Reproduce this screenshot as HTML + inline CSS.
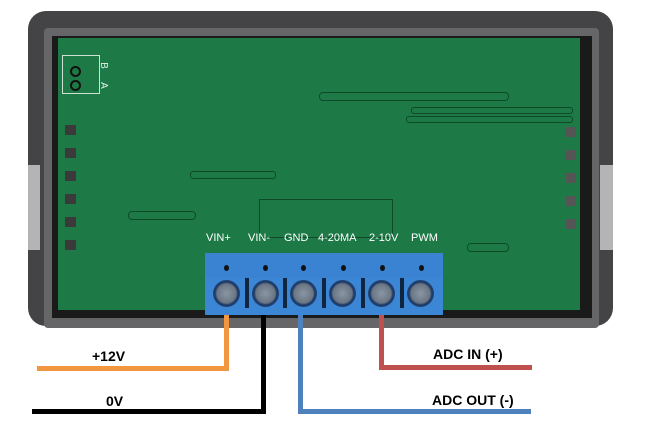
<!DOCTYPE html>
<html><head><meta charset="utf-8"><style>
html,body{margin:0;padding:0;background:#fff;width:646px;height:448px;overflow:hidden;position:relative;font-family:"Liberation Sans",sans-serif}
.a{position:absolute}
.lbl{position:absolute;color:#fff;font-size:11px;top:232px}
.w{position:absolute;font-weight:bold;font-size:14px;color:#000}
.scr{position:absolute;top:280px;width:27px;height:27px;border-radius:50%;background:radial-gradient(circle,#8a96a4 0,#6b7684 50%,#1d3a66 60%,#2a5da0 100%)}
.dot{position:absolute;top:265px;width:5px;height:6px;border-radius:50%;background:#111}
.sep{position:absolute;top:278px;width:4px;height:30px;background:#10253f}
</style></head><body>
<div class="a" style="left:28px;top:11px;width:585px;height:315px;background:#444446;border-radius:18px"></div>
<div class="a" style="left:28px;top:165px;width:12px;height:85px;background:#b4b4b6"></div>
<div class="a" style="left:600px;top:165px;width:13px;height:85px;background:#b4b4b6"></div>
<div class="a" style="left:44px;top:28px;width:555px;height:300px;background:#666668;border-radius:4px"></div>
<div class="a" style="left:52px;top:36px;width:540px;height:282px;background:#1a1a1a"></div>
<div class="a" style="left:58px;top:38px;width:522px;height:272px;background:#1d7a46"></div>
<div class="a" style="left:62px;top:55px;width:36px;height:37px;border:1px solid #cfe0d4"></div>
<div class="a" style="left:70px;top:66px;width:7px;height:7px;border:2px solid #111;border-radius:50%"></div>
<div class="a" style="left:70px;top:80px;width:7px;height:7px;border:2px solid #111;border-radius:50%"></div>
<div class="a" style="left:100px;top:60px;color:#e8f0ea;font-size:10px;transform:rotate(90deg)">B</div>
<div class="a" style="left:100px;top:80px;color:#e8f0ea;font-size:10px;transform:rotate(90deg)">A</div>
<div class="a" style="left:65px;top:125px;width:11px;height:135px;background:repeating-linear-gradient(#3a3a3a 0 10px,#1d7a46 10px 23px)"></div>
<div class="a" style="left:566px;top:127px;width:10px;height:115px;background:repeating-linear-gradient(#555 0 10px,#1d7a46 10px 23px)"></div>
<div class="a" style="left:319px;top:92px;width:188px;height:7px;border:1px solid #0e4a2a;border-radius:4px"></div>
<div class="a" style="left:411px;top:107px;width:160px;height:5px;border:1px solid #0e4a2a;border-radius:3px"></div>
<div class="a" style="left:406px;top:116px;width:165px;height:5px;border:1px solid #0e4a2a;border-radius:3px"></div>
<div class="a" style="left:190px;top:171px;width:84px;height:6px;border:1px solid #0e4a2a;border-radius:3px"></div>
<div class="a" style="left:128px;top:211px;width:66px;height:7px;border:1px solid #0e4a2a;border-radius:4px"></div>
<div class="a" style="left:467px;top:243px;width:40px;height:7px;border:1px solid #0e4a2a;border-radius:4px"></div>
<div class="a" style="left:259px;top:199px;width:132px;height:37px;border:1px solid #0e4a2a"></div>
<div class="lbl" style="left:206px">VIN+</div>
<div class="lbl" style="left:248px">VIN-</div>
<div class="lbl" style="left:284px">GND</div>
<div class="lbl" style="left:318px">4-20MA</div>
<div class="lbl" style="left:369px">2-10V</div>
<div class="lbl" style="left:411px">PWM</div>
<div class="a" style="left:205px;top:253px;width:238px;height:62px;background:#3c86d6"></div>
<div class="a" style="left:205px;top:253px;width:238px;height:25px;background:#3a82d2"></div>
<div class="dot" style="left:224px"></div><div class="dot" style="left:263px"></div><div class="dot" style="left:301px"></div><div class="dot" style="left:341px"></div><div class="dot" style="left:380px"></div><div class="dot" style="left:419px"></div>
<div class="scr" style="left:213px"></div><div class="scr" style="left:252px"></div><div class="scr" style="left:290px"></div><div class="scr" style="left:329px"></div><div class="scr" style="left:368px"></div><div class="scr" style="left:407px"></div>
<div class="sep" style="left:245px"></div><div class="sep" style="left:283px"></div><div class="sep" style="left:322px"></div><div class="sep" style="left:361px"></div><div class="sep" style="left:400px"></div>
<div class="a" style="left:224px;top:315px;width:5px;height:56px;background:#f39640"></div>
<div class="a" style="left:37px;top:366px;width:192px;height:5px;background:#f39640"></div>
<div class="a" style="left:261px;top:315px;width:5px;height:99px;background:#000"></div>
<div class="a" style="left:32px;top:409px;width:234px;height:5px;background:#000"></div>
<div class="a" style="left:298px;top:315px;width:5px;height:99px;background:#4f81bd"></div>
<div class="a" style="left:298px;top:409px;width:233px;height:5px;background:#4f81bd"></div>
<div class="a" style="left:379px;top:315px;width:5px;height:55px;background:#c0504d"></div>
<div class="a" style="left:379px;top:365px;width:153px;height:5px;background:#c0504d"></div>
<div class="w" style="left:92px;top:348px">+12V</div>
<div class="w" style="left:106px;top:393px">0V</div>
<div class="w" style="left:433px;top:346px">ADC IN (+)</div>
<div class="w" style="left:432px;top:392px">ADC OUT (-)</div>
</body></html>
